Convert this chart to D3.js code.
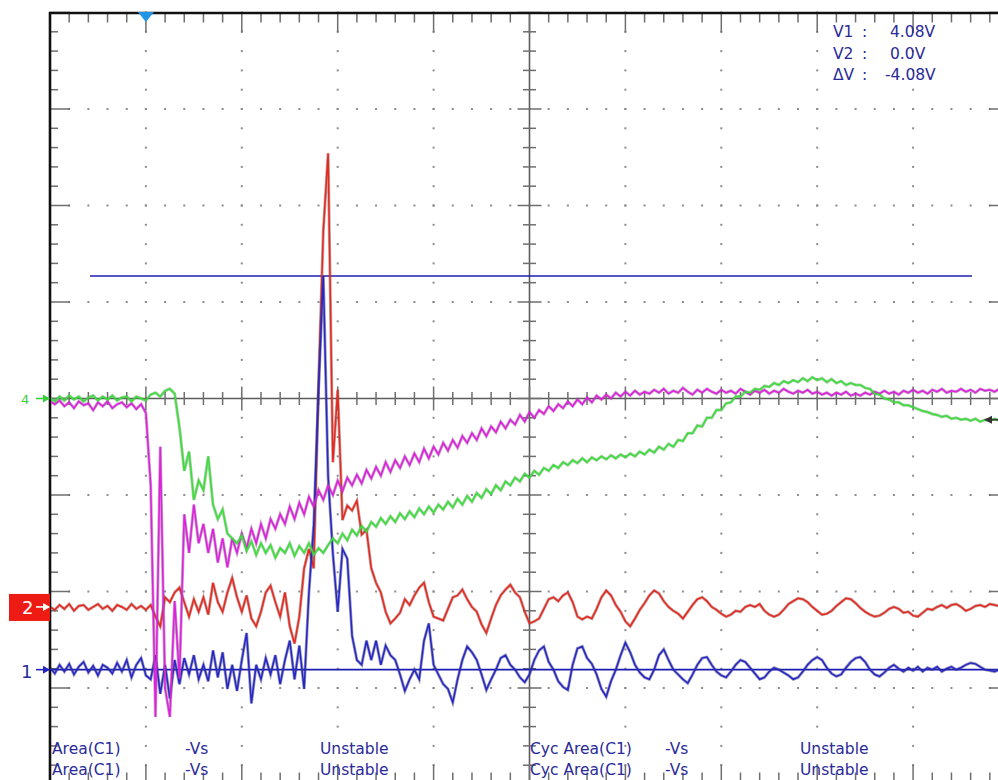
<!DOCTYPE html>
<html>
<head>
<meta charset="utf-8">
<script src="https://cdn.jsdelivr.net/npm/d3@7"></script>
<style>
  html, body { margin: 0; padding: 0; background: #ffffff; overflow: hidden; }
  svg { display: block; }
</style>
</head>
<body>
<svg id="scope" width="998" height="780"></svg>
<script>
// Sampling interval of the acquisition, in horizontal divisions
const sampleStep = 0.05;

// Channel 1 (blue), volts above its ground marker
const ch1 = [
  0.02,-0.04,0.05,-0.02,0.06,-0.05,0.03,0.08,-0.03,0.04,
  -0.06,0.05,0.02,-0.04,0.07,-0.02,0.10,-0.08,0.05,0.12,
  -0.06,-0.10,0.15,-0.25,0.05,-0.30,0.10,-0.15,0.12,-0.05,
  0.15,-0.10,0.05,-0.12,0.20,-0.08,0.18,-0.20,0.05,-0.22,
  0.10,0.38,-0.35,0.05,-0.10,0.12,-0.05,0.15,-0.15,0.10,
  0.30,-0.10,0.25,-0.20,0.80,1.50,2.90,4.08,2.00,1.20,
  0.60,1.25,1.15,0.35,0.10,0.05,0.30,0.10,0.30,0.05,
  0.25,0.15,0.10,-0.05,-0.22,-0.10,0.00,-0.10,0.30,0.48,
  0.05,-0.05,-0.15,-0.20,-0.34,-0.10,0.10,0.24,0.18,0.10,
  -0.05,-0.21,-0.10,0.00,0.12,0.15,0.05,0.00,-0.08,-0.13,
  -0.05,0.10,0.20,0.24,0.08,0.00,-0.12,-0.18,-0.21,0.05,
  0.22,0.24,0.12,0.06,-0.05,-0.20,-0.28,-0.12,0.00,0.15,
  0.28,0.18,0.05,-0.03,-0.08,-0.10,0.00,0.15,0.21,0.10,
  0.00,-0.05,-0.10,-0.14,-0.05,0.05,0.12,0.13,0.05,-0.02,
  -0.06,-0.08,-0.02,0.05,0.10,0.08,0.02,-0.04,-0.10,-0.08,
  -0.02,0.02,0.00,-0.03,-0.06,-0.10,-0.08,-0.02,0.05,0.10,
  0.13,0.10,0.02,-0.04,-0.07,-0.05,0.02,0.08,0.12,0.13,
  0.08,0.00,-0.05,-0.07,-0.03,0.02,0.05,0.01,-0.02,0.02,
  -0.01,0.03,-0.02,0.02,0.00,0.03,-0.02,0.01,0.03,0.00,
  0.02,0.05,0.07,0.06,0.03,0.00,-0.01,-0.02,0.00,-0.01
];

// Channel 2 (red)
const ch2 = [
  0.00,-0.03,0.02,-0.02,0.03,-0.04,0.01,0.02,-0.03,0.00,
  0.03,-0.02,0.01,-0.04,0.02,0.00,-0.03,0.03,-0.02,0.01,
  -0.03,0.02,-0.10,-0.20,0.10,0.05,0.15,0.20,0.05,-0.10,
  0.08,-0.05,0.10,-0.08,0.25,0.05,-0.05,0.15,0.30,0.10,
  -0.05,0.12,-0.12,-0.20,-0.05,0.15,0.22,0.05,-0.10,0.15,
  -0.20,-0.38,-0.10,0.40,0.60,0.40,2.30,3.90,4.70,1.50,
  2.25,0.90,1.05,1.00,1.10,0.75,0.80,0.40,0.25,0.15,
  -0.05,-0.17,-0.12,-0.06,0.08,0.02,0.12,0.20,0.25,0.05,
  -0.10,-0.12,-0.14,-0.02,0.10,0.12,0.18,0.08,0.00,-0.05,
  -0.18,-0.27,-0.12,0.02,0.12,0.18,0.23,0.15,0.10,-0.05,
  -0.17,-0.15,-0.12,-0.02,0.08,0.10,0.06,0.12,0.15,0.05,
  -0.10,-0.13,-0.10,-0.12,-0.02,0.10,0.17,0.12,0.02,-0.05,
  -0.15,-0.20,-0.12,-0.03,0.04,0.12,0.17,0.14,0.06,0.00,
  -0.04,-0.07,-0.12,-0.05,0.02,0.08,0.10,0.06,0.00,-0.03,
  -0.07,-0.10,-0.08,-0.04,-0.05,0.00,0.02,0.00,0.03,-0.04,
  -0.08,-0.10,-0.08,-0.03,0.03,0.06,0.09,0.08,0.05,0.00,
  -0.04,-0.08,-0.07,-0.04,0.01,0.05,0.09,0.08,0.04,-0.01,
  -0.05,-0.08,-0.10,-0.09,-0.06,-0.02,0.00,-0.02,-0.06,-0.05,
  -0.09,-0.10,-0.06,-0.02,-0.03,0.00,0.02,-0.01,0.02,0.03,
  0.00,-0.04,-0.02,0.01,0.02,0.00,0.03,0.02,0.01,0.02
];

// Channel 3 (magenta)
const ch3 = [
  -0.03,-0.06,-0.02,-0.08,-0.04,-0.10,-0.03,-0.07,-0.05,-0.12,
  -0.04,-0.08,-0.03,-0.10,-0.06,-0.04,-0.09,-0.05,-0.11,-0.06,
  -0.15,-0.90,-3.30,-0.50,-3.00,-3.30,-2.10,-2.90,-1.20,-1.60,
  -1.10,-1.50,-1.30,-1.60,-1.35,-1.70,-1.45,-1.75,-1.45,-1.60,
  -1.40,-1.55,-1.35,-1.50,-1.30,-1.45,-1.25,-1.35,-1.20,-1.30,
  -1.12,-1.25,-1.08,-1.20,-1.02,-1.12,-0.95,-1.05,-0.90,-1.00,
  -0.85,-0.96,-0.82,-0.90,-0.79,-0.88,-0.74,-0.83,-0.71,-0.80,
  -0.66,-0.76,-0.64,-0.72,-0.60,-0.69,-0.57,-0.66,-0.52,-0.62,
  -0.50,-0.58,-0.46,-0.54,-0.43,-0.51,-0.39,-0.46,-0.36,-0.43,
  -0.31,-0.39,-0.29,-0.35,-0.24,-0.31,-0.22,-0.27,-0.17,-0.24,
  -0.14,-0.20,-0.12,-0.16,-0.08,-0.13,-0.06,-0.10,-0.03,-0.08,
  -0.01,-0.06,0.01,-0.04,0.03,-0.01,0.04,0.00,0.06,0.02,
  0.07,0.03,0.08,0.04,0.07,0.05,0.09,0.06,0.10,0.05,
  0.08,0.06,0.11,0.07,0.04,0.09,0.06,0.10,0.07,0.05,
  0.09,0.06,0.08,0.05,0.10,0.07,0.04,0.08,0.06,0.09,
  0.05,0.08,0.06,0.10,0.07,0.05,0.08,0.06,0.09,0.05,
  0.07,0.04,0.06,0.03,0.06,0.04,0.07,0.03,0.05,0.03,
  0.06,0.04,0.07,0.05,0.08,0.05,0.07,0.04,0.08,0.06,
  0.09,0.06,0.08,0.05,0.09,0.07,0.10,0.06,0.08,0.07,
  0.10,0.07,0.09,0.06,0.10,0.08,0.09,0.07,0.10,0.08
];

// Channel 4 (green)
const ch4 = [
  0.01,-0.03,0.02,-0.02,0.03,-0.01,0.02,-0.03,0.01,0.03,
  -0.02,0.02,-0.01,0.03,-0.02,0.01,0.02,-0.03,0.02,0.00,
  -0.02,0.04,0.06,0.02,0.08,0.10,0.05,-0.30,-0.75,-0.55,
  -1.05,-0.85,-0.95,-0.60,-1.10,-1.25,-1.15,-1.40,-1.45,-1.50,
  -1.42,-1.58,-1.48,-1.62,-1.50,-1.60,-1.52,-1.65,-1.55,-1.60,
  -1.50,-1.63,-1.53,-1.60,-1.50,-1.62,-1.55,-1.60,-1.52,-1.45,
  -1.50,-1.40,-1.47,-1.36,-1.42,-1.32,-1.38,-1.28,-1.33,-1.24,
  -1.30,-1.22,-1.28,-1.19,-1.25,-1.17,-1.23,-1.14,-1.20,-1.12,
  -1.18,-1.10,-1.15,-1.07,-1.13,-1.04,-1.10,-1.01,-1.07,-0.98,
  -1.03,-0.94,-0.99,-0.90,-0.95,-0.86,-0.90,-0.82,-0.86,-0.78,
  -0.82,-0.75,-0.79,-0.72,-0.75,-0.69,-0.72,-0.66,-0.69,-0.64,
  -0.67,-0.62,-0.66,-0.61,-0.64,-0.60,-0.63,-0.59,-0.62,-0.58,
  -0.61,-0.57,-0.60,-0.55,-0.58,-0.53,-0.56,-0.50,-0.53,-0.47,
  -0.50,-0.43,-0.44,-0.36,-0.36,-0.28,-0.29,-0.20,-0.20,-0.12,
  -0.12,-0.05,-0.04,0.02,0.02,0.07,0.06,0.10,0.09,0.13,
  0.12,0.16,0.14,0.18,0.16,0.19,0.17,0.21,0.18,0.22,
  0.19,0.21,0.17,0.20,0.16,0.18,0.14,0.16,0.14,0.14,
  0.11,0.10,0.05,0.04,0.00,-0.01,-0.04,-0.04,-0.07,-0.07,
  -0.09,-0.11,-0.13,-0.14,-0.16,-0.17,-0.19,-0.18,-0.21,-0.20,
  -0.22,-0.21,-0.23,-0.21,-0.24,-0.22,-0.23,-0.21,-0.23,-0.22
];

// Ground positions of each channel, in vertical divisions from screen centre
const groundOffsets = { c1: -2.81, c2: -2.16, c3: 0, c4: 0 };

// Cursor values (volts on channel 1)
const cursorV1 = 4.08;
const cursorV2 = 0.0;

// Measurement table along the bottom
const measureLeft  = ["Area(C1)", "-Vs", "Unstable"];
const measureRight = ["Cyc Area(C1)", "-Vs", "Unstable"];

// ---------------------------------------------------------------------------
const W = 998, H = 780;
const svg = d3.select("#scope");
const x = d3.scaleLinear().domain([0, 10]).range([50, 1009]);
const y = d3.scaleLinear().domain([-4, 4]).range([784.5, 12.5]);
const textBlue = "#2a2a98";
const font = "'DejaVu Sans', Verdana, sans-serif";

svg.append("rect").attr("width", W).attr("height", H).attr("fill", "#ffffff");

const grid = svg.append("g");

// Dotted graticule on major divisions
const minorX = d3.range(0, 51).map(m => m * 0.2);
const minorY = d3.range(0, 41).map(m => -4 + m * 0.2);
const dots = [];
[1, 2, 3, 4, 6, 7, 8, 9].forEach(k => minorY.forEach(v => dots.push([k, v])));
[-3, -2, -1, 1, 2, 3].forEach(j => minorX.forEach(t => dots.push([t, j])));
grid.selectAll("rect.dot").data(dots).join("rect")
  .attr("class", "dot")
  .attr("x", d => x(d[0]) - 1).attr("y", d => y(d[1]) - 1)
  .attr("width", 2).attr("height", 2).attr("fill", "#8c8c8c");

const isMajor = v => Math.abs(v - Math.round(v)) < 1e-6;
const tickColor = "#6e6e6e";

// Centre crosshair with minor ticks
grid.append("line").attr("x1", 50).attr("x2", W).attr("y1", y(0)).attr("y2", y(0))
  .attr("stroke", "#5c5c5c").attr("stroke-width", 1.6);
grid.append("line").attr("x1", x(5)).attr("x2", x(5)).attr("y1", y(4)).attr("y2", H)
  .attr("stroke", "#5c5c5c").attr("stroke-width", 1.6);
grid.selectAll("line.hx").data(minorX).join("line").attr("class", "hx")
  .attr("x1", d => x(d)).attr("x2", d => x(d))
  .attr("y1", d => y(0) - (isMajor(d) ? 12 : 6.5)).attr("y2", d => y(0) + (isMajor(d) ? 12 : 6.5))
  .attr("stroke", tickColor).attr("stroke-width", 1.5);
grid.selectAll("line.vy").data(minorY).join("line").attr("class", "vy")
  .attr("y1", d => y(d)).attr("y2", d => y(d))
  .attr("x1", d => x(5) - (isMajor(d) ? 12 : 6.5)).attr("x2", d => x(5) + (isMajor(d) ? 12 : 6.5))
  .attr("stroke", tickColor).attr("stroke-width", 1.5);

// Ticks along the frame edges
grid.selectAll("line.tt").data(minorX).join("line").attr("class", "tt")
  .attr("x1", d => x(d)).attr("x2", d => x(d))
  .attr("y1", y(4)).attr("y2", d => y(4) + (isMajor(d) ? 20 : 10))
  .attr("stroke", tickColor).attr("stroke-width", 1.5);
grid.selectAll("line.tb").data(minorX).join("line").attr("class", "tb")
  .attr("x1", d => x(d)).attr("x2", d => x(d))
  .attr("y1", y(-4)).attr("y2", d => y(-4) - (isMajor(d) ? 20 : 12))
  .attr("stroke", tickColor).attr("stroke-width", 1.5);
grid.selectAll("line.tl").data(minorY).join("line").attr("class", "tl")
  .attr("y1", d => y(d)).attr("y2", d => y(d))
  .attr("x1", x(0)).attr("x2", d => x(0) + (isMajor(d) ? 20 : 8))
  .attr("stroke", tickColor).attr("stroke-width", 1.5);
grid.selectAll("line.tr").data(minorY).join("line").attr("class", "tr")
  .attr("y1", d => y(d)).attr("y2", d => y(d))
  .attr("x1", x(10)).attr("x2", d => x(10) - (isMajor(d) ? 20 : 8))
  .attr("stroke", tickColor).attr("stroke-width", 1.5);

// Frame: top and left borders
grid.append("line").attr("x1", 49).attr("x2", W).attr("y1", 13).attr("y2", 13)
  .attr("stroke", "#111").attr("stroke-width", 2.6);
grid.append("line").attr("x1", 50).attr("x2", 50).attr("y1", 12).attr("y2", H)
  .attr("stroke", "#111").attr("stroke-width", 2.6);

// Cursors
const yC1 = v => y(v + groundOffsets.c1);
svg.append("line").attr("x1", 90).attr("x2", 972).attr("y1", yC1(cursorV1)).attr("y2", yC1(cursorV1))
  .attr("stroke", "#1c1cb0").attr("stroke-width", 1.6);
svg.append("line").attr("x1", 50).attr("x2", W).attr("y1", yC1(cursorV2)).attr("y2", yC1(cursorV2))
  .attr("stroke", "#1c1cb0").attr("stroke-width", 1.8);

// Traces
svg.append("defs").append("clipPath").attr("id", "screen")
  .append("rect").attr("x", 51).attr("y", 14).attr("width", W - 51).attr("height", H - 14);

const traces = [
  { values: ch2, offset: groundOffsets.c2, color: "#e8281e", edge: "#8c4a46" },
  { values: ch1, offset: groundOffsets.c1, color: "#2626c8", edge: "#3a3a78" },
  { values: ch3, offset: groundOffsets.c3, color: "#e01ee0", edge: "#8e4a8e" },
  { values: ch4, offset: groundOffsets.c4, color: "#38e038", edge: "#5a9c5a" }
];
const traceLayer = svg.append("g").attr("clip-path", "url(#screen)");
traces.forEach(tr => {
  const line = d3.line()
    .x((d, i) => x(i * sampleStep))
    .y(d => y(d + tr.offset))
    .curve(d3.curveLinear);
  traceLayer.append("path").attr("d", line(tr.values))
    .attr("fill", "none").attr("stroke", tr.edge).attr("stroke-opacity", 0.5)
    .attr("stroke-width", 3).attr("stroke-linejoin", "miter");
  traceLayer.append("path").attr("d", line(tr.values))
    .attr("fill", "none").attr("stroke", tr.color)
    .attr("stroke-width", 1.5).attr("stroke-linejoin", "miter");
});

// Trigger position marker
svg.append("path")
  .attr("d", `M${x(1) - 8},12 L${x(1) + 8},12 L${x(1)},22 Z`)
  .attr("fill", "#2196e8");

// Channel ground markers on the left edge
function arrow(g, yy, color) {
  g.append("line").attr("x1", 36).attr("x2", 49).attr("y1", yy).attr("y2", yy)
    .attr("stroke", color).attr("stroke-width", 1.6);
  g.append("path").attr("d", `M${43},${yy - 4} L${50},${yy} L${43},${yy + 4} Z`).attr("fill", color);
}
const markers = svg.append("g");
const y4 = y(groundOffsets.c4);
markers.append("text").attr("x", 21).attr("y", y4 + 5).text("4")
  .attr("font-family", font).attr("font-size", 13).attr("fill", "#3ccc3c");
arrow(markers, y4, "#3ccc3c");

const y2g = y(groundOffsets.c2);
markers.append("rect").attr("x", 9).attr("y", y2g - 13).attr("width", 41).attr("height", 27).attr("fill", "#ee1a14");
markers.append("text").attr("x", 22).attr("y", y2g + 7).text("2")
  .attr("font-family", font).attr("font-size", 18).attr("fill", "#ffffff");
arrow(markers, y2g, "#ffffff");

const y1g = y(groundOffsets.c1);
markers.append("text").attr("x", 21).attr("y", y1g + 8).text("1")
  .attr("font-family", font).attr("font-size", 18).attr("fill", textBlue);
arrow(markers, y1g, "#2626c0");

// Reference marker on the right edge
markers.append("path").attr("d", `M${984},${y(-0.22)} L${992},${y(-0.22) - 4} L${992},${y(-0.22) + 4} Z`).attr("fill", "#333");
markers.append("line").attr("x1", 990).attr("x2", W).attr("y1", y(-0.22)).attr("y2", y(-0.22))
  .attr("stroke", "#333").attr("stroke-width", 1.6);

// Cursor readout
const fmt = v => (Number.isInteger(v) ? v.toFixed(1) : v.toFixed(2)) + "V";
const readout = [
  ["V1", fmt(cursorV1)],
  ["V2", fmt(cursorV2)],
  ["\u0394V", fmt(cursorV2 - cursorV1)]
];
const ro = svg.append("g").attr("font-family", font).attr("font-size", 15.5).attr("fill", textBlue);
readout.forEach((r, i) => {
  const yy = 37 + i * 21.5;
  ro.append("text").attr("x", 833).attr("y", yy).text(r[0]);
  ro.append("text").attr("x", 862).attr("y", yy).text(":");
  ro.append("text").attr("x", r[1].startsWith("-") ? 885 : 890).attr("y", yy).text(r[1]);
});

// Measurement rows
const mt = svg.append("g").attr("font-family", font).attr("font-size", 15.5).attr("fill", textBlue);
[754, 775].forEach(yy => {
  [52, 185, 320].forEach((xx, i) => mt.append("text").attr("x", xx).attr("y", yy).text(measureLeft[i]));
  [530, 665, 800].forEach((xx, i) => mt.append("text").attr("x", xx).attr("y", yy).text(measureRight[i]));
});
</script>
</body>
</html>
